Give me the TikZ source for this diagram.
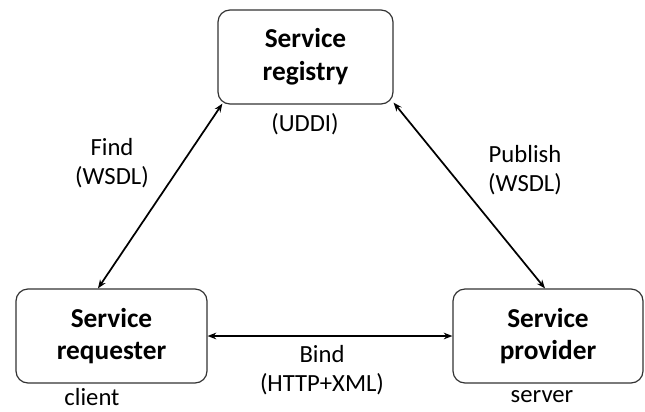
\documentclass[tikz,border=0pt]{standalone}
\usepackage{fontspec}
\setmainfont{Carlito}
\usetikzlibrary{arrows.meta,calc}
\begin{document}
\begin{tikzpicture}[x=0.75pt,y=-0.75pt,
  box/.style={draw=black!80,line width=0.9pt,rounded corners=9pt,minimum width=#1*0.75pt,minimum height=70.5pt,align=center,inner sep=0pt,
    font=\fontsize{20.5}{24.5}\selectfont\bfseries},
  lbl/.style={align=center,inner sep=0pt,font=\fontsize{18.5}{22}\selectfont},
  conn/.style={line width=1.3pt,{Stealth[length=6.5pt,width=5pt]}-{Stealth[length=6.5pt,width=5pt]}}]
\useasboundingbox (0,0) rectangle (645,411);
\node[box=175] (reg) at (305.5,57) {Service\\registry};
\node[box=191] (req) at (111.5,336) {Service\\requester};
\node[box=190] (prov) at (548,336) {Service\\provider};
\node[lbl] (uddi) at (305,124) {(UDDI)};
\node[lbl] (find) at (112,163) {Find\\(WSDL)};
\node[lbl] (pub) at (525,170) {Publish\\(WSDL)};
\node[lbl] (bind) at (322,370) {Bind\\(HTTP+XML)};
\node[lbl] (client) at (92,397) {client};
\node[lbl] (server) at (542,397) {server};
\draw[conn] ($(req.north)+(-13.5,0)$) -- ($(reg.south west)+(5,-1)$);
\draw[conn] ($(reg.south east)+(0,-2)$) -- ($(prov.north)+(-3,0)$);
\draw[conn] (req.east) -- (prov.west);
\end{tikzpicture}
\end{document}
